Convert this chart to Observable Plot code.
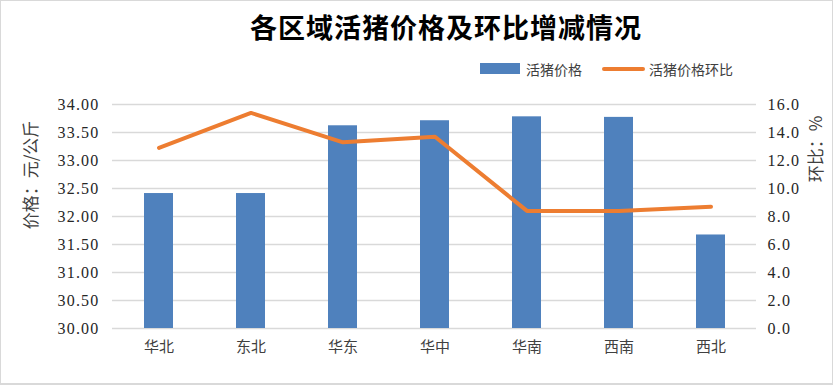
<!DOCTYPE html>
<html><head><meta charset="utf-8">
<script src="https://cdn.jsdelivr.net/npm/d3@7"></script>
<script src="https://cdn.jsdelivr.net/npm/@observablehq/plot@0.6"></script>
<style>
body{margin:0;background:#fff}
#chart{position:relative;width:833px;height:385px;overflow:hidden;background:#fff}
#frame{position:absolute;left:0;top:0;width:833px;height:385px;box-sizing:border-box;border:1px solid #d9d9d9;border-bottom-width:2px;pointer-events:none}
#plot{position:absolute;left:0;top:0}
#title{position:absolute;left:446px;top:12px;transform:translateX(-50%);white-space:nowrap;font-family:"Noto Sans CJK SC",sans-serif;font-weight:bold;font-size:27px;line-height:30px;letter-spacing:1px;color:#000}
.leg{position:absolute;font-family:"Noto Sans CJK SC",sans-serif;font-size:14px;line-height:16px;color:#404040;white-space:nowrap}
.sw-bar{position:absolute;left:480px;top:63px;width:40px;height:11px;background:#4f81bd}
.sw-line{position:absolute;left:602px;top:67px;width:43px;height:4px;border-radius:2px;background:#ed7d31}
.ytitle{position:absolute;font-family:"Noto Sans CJK SC",sans-serif;font-size:17px;line-height:20px;color:#404040;white-space:nowrap;transform:translate(-50%,-50%) rotate(-90deg)}
g[aria-label="y-axis tick label"] text{letter-spacing:1.2px}
</style></head>
<body>
<div id="chart">
  <div id="plot"></div>
  <div id="title"></div>
  <div class="sw-bar"></div><div class="leg" id="leg1" style="left:526px;top:61px"></div>
  <div class="sw-line"></div><div class="leg" id="leg2" style="left:649px;top:61px"></div>
  <div class="ytitle" id="ytl" style="left:30px;top:175px"></div>
  <div class="ytitle" id="ytr" style="left:815px;top:149px"></div>
  <div id="frame"></div>
</div>
<script>
const chartTitle = "各区域活猪价格及环比增减情况";
const regions = ["华北","东北","华东","华中","华南","西南","西北"];
const prices = [32.41, 32.41, 33.62, 33.71, 33.78, 33.77, 31.67];
const changes = [12.9, 15.4, 13.3, 13.7, 8.4, 8.4, 8.7];
const leftTicks = [30, 30.5, 31, 31.5, 32, 32.5, 33, 33.5, 34];
const rightTicks = [0, 2, 4, 6, 8, 10, 12, 14, 16];
const seriesNames = ["活猪价格", "活猪价格环比"];
const leftTitle = "价格：元/公斤";
const rightTitle = "环比：%";

const leftMin = 30, leftMax = 34, rightMax = 16;
const toLeft = v => leftMin + v / rightMax * (leftMax - leftMin);
const fromLeft = d => (d - leftMin) / (leftMax - leftMin) * rightMax;

const data = regions.map((r, i) => ({region: r, price: prices[i], change: changes[i]}));

document.getElementById("title").textContent = chartTitle;
document.getElementById("leg1").textContent = seriesNames[0];
document.getElementById("leg2").textContent = seriesNames[1];
document.getElementById("ytl").textContent = leftTitle;
document.getElementById("ytr").textContent = rightTitle;

const chart = Plot.plot({
  width: 833, height: 385,
  marginTop: 104, marginBottom: 57, marginLeft: 112, marginRight: 77,
  style: {fontFamily: "'Liberation Serif', serif", fontSize: "16px", color: "#262626", background: "transparent"},
  x: {domain: regions, paddingInner: 0.685, paddingOuter: 0.3425, label: null},
  y: {domain: [leftMin, leftMax], label: null},
  marks: [
    Plot.gridY(leftTicks, {stroke: "#d9d9d9", strokeOpacity: 1, strokeWidth: 1.4}),
    Plot.barY(data, {x: "region", y1: leftMin, y2: "price", fill: "#4f81bd"}),
    Plot.line(data, {x: "region", y: d => toLeft(d.change), stroke: "#ed7d31", strokeWidth: 4, strokeLinecap: "round", strokeLinejoin: "round"}),
    Plot.axisY(leftTicks, {anchor: "left", tickSize: 0, tickPadding: 13, tickFormat: d => d.toFixed(2), label: null, fill: "#262626"}),
    Plot.axisY(rightTicks.map(toLeft), {anchor: "right", tickSize: 0, tickPadding: 11, tickFormat: d => fromLeft(d).toFixed(1), label: null, fill: "#262626"}),
    Plot.axisX({tickSize: 0, tickPadding: 13, fontFamily: "'Noto Sans CJK SC', sans-serif", fontSize: 15, fill: "#404040", label: null})
  ]
});
document.getElementById("plot").appendChild(chart);
</script>
</body></html>
